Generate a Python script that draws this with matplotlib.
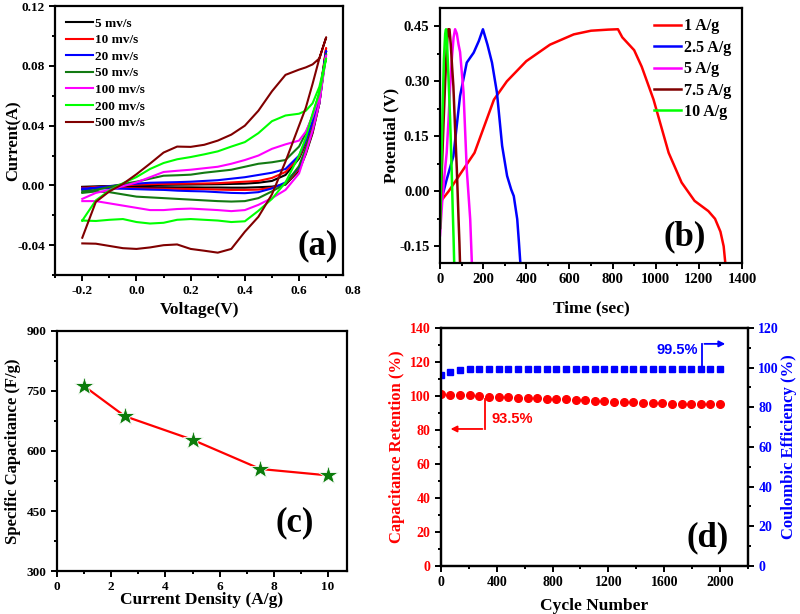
import numpy as np
import matplotlib.pyplot as plt
from matplotlib.ticker import MultipleLocator

plt.rcParams['font.family'] = ['Liberation Serif', 'DejaVu Serif']
plt.rcParams['font.weight'] = 'bold'
plt.rcParams['axes.labelweight'] = 'bold'
plt.rcParams['axes.linewidth'] = 1.6

# ---- (a) cyclic voltammetry ----
cv_volt = [-0.2, -0.15, -0.1, -0.05, 0.0, 0.05, 0.1, 0.15, 0.2, 0.25, 0.3, 0.35,
           0.4, 0.45, 0.5, 0.55, 0.6, 0.625, 0.65, 0.675, 0.7]
cv_labels = ['5 mv/s', '10 mv/s', '20 mv/s', '50 mv/s', '100 mv/s', '200 mv/s', '500 mv/s']
cv_colors = ['#000000', '#ff0000', '#0000ff', '#137a13', '#ff00ff', '#00ff00', '#800000']
# anodic branch, forward sweep (-0.2 -> 0.7)
cv_up = [
    [-0.001, -0.0007, -0.0004, -0.0002, 0.0, 0.0002, 0.0004, 0.0005, 0.0006, 0.0007, 0.0008, 0.001,
     0.0012, 0.0018, 0.003, 0.007, 0.018, 0.028, 0.041, 0.06, 0.09],
    [-0.002, -0.0012, -0.0006, 0.0, 0.0005, 0.0008, 0.001, 0.0011, 0.0012, 0.0013, 0.0015, 0.002,
     0.0025, 0.003, 0.005, 0.009, 0.019, 0.029, 0.042, 0.06, 0.092],
    [-0.003, -0.0015, -0.0005, 0.0005, 0.0012, 0.0018, 0.002, 0.0022, 0.0025, 0.003, 0.0035, 0.0045,
     0.0055, 0.007, 0.0085, 0.011, 0.02, 0.03, 0.043, 0.06, 0.09],
    [-0.004, -0.003, -0.001, 0.001, 0.0025, 0.0045, 0.0065, 0.0068, 0.0072, 0.0085, 0.0095, 0.0105,
     0.0125, 0.0145, 0.0155, 0.017, 0.026, 0.035, 0.047, 0.062, 0.088],
    [-0.009, -0.005, -0.003, -0.0005, 0.002, 0.0055, 0.009, 0.0098, 0.0105, 0.0115, 0.0125, 0.0145,
     0.017, 0.02, 0.0245, 0.0275, 0.03, 0.036, 0.046, 0.06, 0.087],
    [-0.0235, -0.01, -0.0034, 0.0015, 0.0056, 0.011, 0.015, 0.0175, 0.019, 0.0208, 0.0228, 0.026,
     0.029, 0.035, 0.043, 0.0468, 0.048, 0.05, 0.055, 0.066, 0.085],
    [-0.035, -0.011, -0.004, 0.001, 0.0075, 0.0146, 0.022, 0.026, 0.0258, 0.0272, 0.03, 0.034,
     0.04, 0.05, 0.063, 0.074, 0.0775, 0.079, 0.081, 0.085, 0.099],
]
# cathodic branch, same voltages (plotted back from 0.7 -> -0.2)
cv_down = [
    [-0.001, -0.001, -0.001, -0.001, -0.0011, -0.0012, -0.0012, -0.0013, -0.0013, -0.0014, -0.0014, -0.0015,
     -0.0015, -0.0012, -0.0008, 0.0005, 0.01, 0.021, 0.035, 0.055, 0.09],
    [-0.0015, -0.0016, -0.0017, -0.0018, -0.002, -0.0021, -0.0022, -0.0023, -0.0024, -0.0025, -0.0028, -0.003,
     -0.003, -0.0028, -0.0015, 0.001, 0.011, 0.022, 0.036, 0.055, 0.092],
    [-0.002, -0.002, -0.002, -0.0022, -0.0025, -0.0028, -0.003, -0.0035, -0.0038, -0.004, -0.0045, -0.005,
     -0.0052, -0.0045, -0.002, 0.002, 0.012, 0.023, 0.037, 0.055, 0.09],
    [-0.005, -0.004, -0.0045, -0.006, -0.0075, -0.008, -0.0085, -0.009, -0.0095, -0.01, -0.0105, -0.0108,
     -0.0105, -0.0085, -0.004, 0.001, 0.013, 0.025, 0.038, 0.055, 0.088],
    [-0.0105, -0.0105, -0.012, -0.0135, -0.015, -0.0165, -0.0165, -0.0158, -0.0155, -0.016, -0.0165, -0.0172,
     -0.0165, -0.013, -0.0085, -0.003, 0.008, 0.022, 0.037, 0.055, 0.087],
    [-0.0235, -0.0238, -0.023, -0.0225, -0.0245, -0.0255, -0.025, -0.023, -0.0225, -0.023, -0.0235, -0.0245,
     -0.024, -0.017, -0.009, 0.002, 0.02, 0.032, 0.048, 0.062, 0.085],
    [-0.0388, -0.039, -0.0405, -0.042, -0.0425, -0.0415, -0.04, -0.0395, -0.0425, -0.0437, -0.045, -0.0425,
     -0.031, -0.021, -0.006, 0.016, 0.04, 0.052, 0.068, 0.085, 0.099],
]

# ---- (b) charge / discharge ----
gcd_labels = ['1 A/g', '2.5 A/g', '5 A/g', '7.5 A/g', '10 A/g']
gcd_colors = ['#ff0000', '#0000ff', '#ff00ff', '#800000', '#00ff00']
gcd_t = [
    [0, 40, 80, 160, 250, 310, 400, 510, 620, 700, 780, 825, 845, 900, 935, 990, 1060, 1120,
     1180, 1244, 1275, 1300, 1315, 1325],
    [0, 8, 30, 62, 93, 124, 156, 180, 199, 220, 241, 264, 288, 311, 330, 342, 358, 366, 373],
    [0, 10, 20, 31, 40, 47, 56, 63, 70, 78, 86, 93, 109, 124, 140, 148],
    [0, 8, 16, 24, 32, 38, 44, 50, 56, 62, 70, 78, 86, 90, 93],
    [0, 6, 12, 18, 24, 28, 33, 40, 47, 54, 59, 63, 66],
]
gcd_v = [
    [-0.03, 0.0, 0.035, 0.105, 0.25, 0.30, 0.355, 0.40, 0.428, 0.438, 0.441, 0.442, 0.42, 0.385,
     0.34, 0.25, 0.105, 0.024, -0.026, -0.054, -0.075, -0.11, -0.15, -0.21],
    [-0.07, -0.02, 0.03, 0.096, 0.26, 0.351, 0.378, 0.41, 0.442, 0.40, 0.351, 0.269, 0.124, 0.042,
     0.005, -0.013, -0.076, -0.14, -0.2],
    [-0.12, -0.03, 0.04, 0.105, 0.2, 0.287, 0.37, 0.42, 0.442, 0.43, 0.40, 0.38, 0.27, 0.06, -0.076, -0.2],
    [-0.1, 0.05, 0.18, 0.30, 0.40, 0.442, 0.442, 0.40, 0.34, 0.287, 0.17, 0.06, -0.076, -0.14, -0.2],
    [-0.1, 0.06, 0.22, 0.36, 0.43, 0.442, 0.40, 0.30, 0.196, 0.06, -0.05, -0.13, -0.2],
]

# ---- (c) rate capability ----
current_density = [1, 2.5, 5, 7.5, 10]
spec_cap = [762, 687, 628, 555, 539]

# ---- (d) cycling ----
cycles = [0, 69, 138, 207, 276, 345, 414, 483, 552, 621, 690, 759, 828, 897, 966,
          1034, 1103, 1172, 1241, 1310, 1379, 1448, 1517, 1586, 1655, 1724, 1793, 1862, 1931, 2000]
retention = [101, 100.8, 100.6, 100.3, 100, 99.7, 99.4, 99.2, 99, 98.8, 98.6, 98.4, 98.2, 98, 97.8,
             97.5, 97.2, 97, 96.7, 96.4, 96.2, 96, 95.8, 95.6, 95.5, 95.4, 95.3, 95.2, 95.1, 95.0]
efficiency = [96.3, 97.8, 98.8, 99.1, 99.3, 99.4, 99.4, 99.5, 99.5, 99.5, 99.5, 99.5, 99.5, 99.5, 99.5,
              99.5, 99.5, 99.5, 99.5, 99.5, 99.5, 99.5, 99.5, 99.5, 99.5, 99.5, 99.5, 99.5, 99.5, 99.5]

LAB = 12.5
BIG = 25


def style(ax, size, right=False):
    ax.tick_params(which='both', direction='out', top=False, right=right, labelsize=size, width=1.4)
    ax.tick_params(which='major', length=4)
    ax.tick_params(which='minor', length=2.5)
    for lab in ax.get_xticklabels() + ax.get_yticklabels():
        lab.set_fontweight('bold')


fig = plt.figure(figsize=(8, 6.14), dpi=100)

# (a)
ax = fig.add_axes([0.069, 0.552, 0.36, 0.438])
for i in range(len(cv_labels)):
    v = cv_volt + cv_volt[::-1]
    cur = cv_up[i] + cv_down[i][::-1]
    ax.plot(v, cur, color=cv_colors[i], lw=1.5, label=cv_labels[i])
ax.set_xlim(-0.3, 0.763)
ax.set_ylim(-0.06, 0.12)
ax.xaxis.set_major_locator(MultipleLocator(0.2))
ax.xaxis.set_minor_locator(MultipleLocator(0.1))
ax.yaxis.set_major_locator(MultipleLocator(0.04))
ax.yaxis.set_minor_locator(MultipleLocator(0.02))
ax.xaxis.set_major_formatter(lambda x, p: f'{x:.1f}')
ax.yaxis.set_major_formatter(lambda x, p: f'{x:.2f}')
style(ax, 9.5)
ax.text(0.8, -0.036, '0.8', transform=ax.get_xaxis_transform(), ha='center', va='top',
        fontsize=9.5, fontweight='bold')
ax.set_xlabel('Voltage(V)', fontsize=LAB, labelpad=3)
ax.set_ylabel('Current(A)', fontsize=12)
ax.yaxis.set_label_coords(-0.118, 0.5)
ax.legend(loc='upper left', bbox_to_anchor=(0.0, 1.0), frameon=False, fontsize=9.5,
          handlelength=2.0, handletextpad=0.2, labelspacing=0.33, borderaxespad=0.45)
ax.text(0.91, 0.11, '(a)', transform=ax.transAxes, fontsize=BIG, fontweight='bold',
        ha='center', va='center')

# (b)
ax = fig.add_axes([0.55, 0.572, 0.3775, 0.415])
for i in range(len(gcd_labels)):
    ax.plot(gcd_t[i], gcd_v[i], color=gcd_colors[i], lw=1.8, label=gcd_labels[i])
ax.set_xlim(0, 1400)
ax.set_ylim(-0.195, 0.5)
ax.xaxis.set_major_locator(MultipleLocator(200))
ax.xaxis.set_minor_locator(MultipleLocator(100))
ax.yaxis.set_major_locator(MultipleLocator(0.15))
ax.yaxis.set_minor_locator(MultipleLocator(0.075))
ax.yaxis.set_major_formatter(lambda x, p: f'{x:.2f}')
style(ax, 10.5)
ax.set_xlabel('Time (sec)', fontsize=LAB, labelpad=10)
ax.set_ylabel('Potential (V)', fontsize=LAB)
ax.yaxis.set_label_coords(-0.135, 0.5)
ax.legend(loc='upper right', frameon=False, fontsize=11.5, handlelength=1.7,
          handletextpad=0.2, labelspacing=0.34, borderaxespad=0.25)
ax.text(0.81, 0.1, '(b)', transform=ax.transAxes, fontsize=BIG, fontweight='bold',
        ha='center', va='center')

# (c)
ax = fig.add_axes([0.0713, 0.07, 0.3625, 0.391])
ax.plot(current_density, spec_cap, color='#ff0000', lw=1.6, zorder=2)
ax.plot(current_density, spec_cap, ls='none', marker='*', ms=15, color='#0c7c0c',
        markeredgecolor='white', markeredgewidth=0.6, zorder=3)
ax.set_xlim(0, 10.7)
ax.set_ylim(300, 900)
ax.xaxis.set_major_locator(MultipleLocator(2))
ax.xaxis.set_minor_locator(MultipleLocator(1))
ax.yaxis.set_major_locator(MultipleLocator(150))
ax.yaxis.set_minor_locator(MultipleLocator(75))
style(ax, 9.5)
ax.set_xlabel('Current Density (A/g)', fontsize=LAB, labelpad=-1)
ax.set_ylabel('Specific Capacitance (F/g)', fontsize=12, labelpad=4)
ax.text(0.82, 0.2, '(c)', transform=ax.transAxes, fontsize=BIG, fontweight='bold',
        ha='center', va='center')

# (d)
ax = fig.add_axes([0.551, 0.0782, 0.384, 0.3876])
ax2 = ax.twinx()
ax.plot(cycles, retention, ls='none', marker='o', ms=5.5, color='#ff0000', zorder=3)
ax2.plot(cycles, efficiency, ls='none', marker='s', ms=5, color='#0000ff')
ax.set_xlim(0, 2200)
ax.set_ylim(0, 140)
ax2.set_ylim(0, 120)
ax.xaxis.set_major_locator(MultipleLocator(400))
ax.xaxis.set_minor_locator(MultipleLocator(200))
ax.yaxis.set_major_locator(MultipleLocator(20))
ax.yaxis.set_minor_locator(MultipleLocator(10))
ax2.yaxis.set_major_locator(MultipleLocator(20))
ax2.yaxis.set_minor_locator(MultipleLocator(10))
style(ax, 10)
ax2.tick_params(which='both', direction='out', labelsize=10, width=1.4)
ax2.tick_params(which='major', length=4)
ax2.tick_params(which='minor', length=2.5)
for lab in ax.get_yticklabels():
    lab.set_color('#ff0000')
for lab in ax2.get_yticklabels():
    lab.set_color('#0000ff')
    lab.set_fontweight('bold')
ax.set_xlabel('Cycle Number', fontsize=LAB, labelpad=6)
ax.set_ylabel('Capacitance Retention (%)', fontsize=12, color='#ff0000', labelpad=3)
ax2.set_ylabel('Coulombic Efficiency (%)', fontsize=12, color='#0000ff', labelpad=1)

# arrows pointing to the axes
ax.plot([315, 315], [98.5, 80.6], color='#ff0000', lw=1.3)
ax.annotate('', xy=(50, 80.6), xytext=(318, 80.6),
            arrowprops=dict(arrowstyle='-|>', color='#ff0000', lw=1.3, mutation_scale=9))
ax.text(360, 86.5, '93.5%', color='#ff0000', fontsize=10.5, fontweight='bold',
        family='Liberation Sans', va='center')
ax2.plot([1871, 1871], [100.5, 112], color='#0000ff', lw=1.3)
ax2.annotate('', xy=(2057, 112), xytext=(1868, 112),
             arrowprops=dict(arrowstyle='-|>', color='#0000ff', lw=1.3, mutation_scale=9))
ax2.text(1840, 109, '99.5%', color='#0000ff', fontsize=10.5, fontweight='bold',
         family='Liberation Sans', va='center', ha='right')
ax.text(0.87, 0.12, '(d)', transform=ax.transAxes, fontsize=BIG, fontweight='bold',
        ha='center', va='center')

fig.savefig('out.png', dpi=100)
